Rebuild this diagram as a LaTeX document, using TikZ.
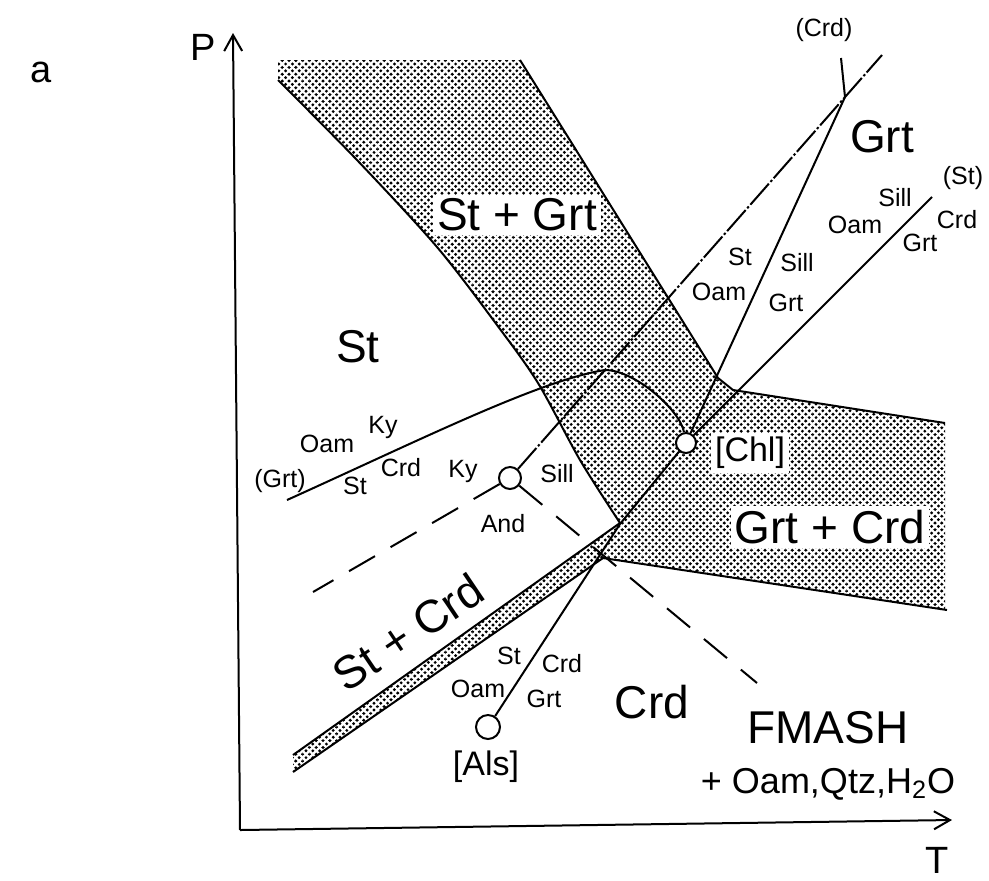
\documentclass[tikz,border=0pt]{standalone}
\usepackage{fontspec}
\setmainfont{Liberation Sans}
\usetikzlibrary{arrows.meta,patterns.meta}

% pola bintik untuk daerah dua fase
\tikzdeclarepattern{
  name=bintik,
  type=uncolored,
  bounding box={(-1.7pt,-1.7pt) and (1.7pt,1.7pt)},
  tile size={(3.4pt,3.4pt)},
  code={
    \fill (0pt,0pt) circle (0.8pt);
    \fill (1.7pt,1.7pt) circle (0.8pt);
    \fill (-1.7pt,1.7pt) circle (0.8pt);
    \fill (1.7pt,-1.7pt) circle (0.8pt);
    \fill (-1.7pt,-1.7pt) circle (0.8pt);
  }
}

\begin{document}
\begin{tikzpicture}[x=0.5pt,y=-0.5pt,
    >={Straight Barb[length=8pt,width=9pt]},
    garis/.style={line width=1pt},
    putus/.style={line width=1pt, dash pattern=on 15pt off 9pt},
    titiktitik/.style={line width=1pt, dash pattern=on 14pt off 1.2pt on 1.2pt off 1.2pt},
    kecil/.style={font=\fontsize{12.5}{14}\selectfont, inner sep=0pt},
    besar/.style={font=\fontsize{23}{26}\selectfont, inner sep=2pt},
    titik/.style={circle, draw, fill=white, line width=1pt, inner sep=0pt}]

    \useasboundingbox (0,0) rectangle (989,880);

    % Gambar daerah berbintik
    \fill[pattern=bintik, pattern color=black] (278,60) -- (520,60) -- (718,378) -- (733,390)
        -- (945,423) -- (945,610) -- (603,558) -- (293,772) -- (293,755) -- (620,523)
        -- plot[smooth] coordinates {(620,523) (580,460) (538,383) (497,325) (437,247) (357,160) (278,80)}
        -- cycle;

    % Batas-batas daerah
    \draw[garis] plot[smooth] coordinates {(278,80) (357,160) (437,247) (497,325) (538,383) (580,460) (620,523)};
    \draw[garis] (520,60) -- (718,378) -- (733,390) -- (945,423);
    \draw[garis] (603,558) -- (947,610);
    \draw[garis] (293,755) -- (620,523);
    \draw[garis] (293,772) -- (603,558);

    % Titik invarian
    \node[titik, minimum size=12pt] (als) at (488,727) {};
    \node[titik, minimum size=10pt] (chl) at (686,443) {};
    \node[titik, minimum size=11pt] (kysill) at (510,478) {};

    % Titik bantu
    \coordinate (O) at (240,830);
    \coordinate (Ptop) at (233,33);
    \coordinate (Tend) at (952,820);
    \coordinate (tekuk) at (620,524);
    \coordinate (crdpt) at (845,97);
    \coordinate (crdend) at (841,58);
    \coordinate (stend) at (932,197);
    \coordinate (kyend) at (882,55);
    \coordinate (grtend) at (287,500);
    \coordinate (grtkink) at (605,370);
    \coordinate (andky) at (313,592);
    \coordinate (andsill) at (757,683);

    % Garis reaksi univarian
    \draw[garis] (als) -- (tekuk) -- (chl);
    \draw[garis] (chl) -- (crdpt) -- (crdend);
    \draw[garis] (chl) -- (stend);
    \draw[garis] (grtend) .. controls (420,440) and (540,380) .. (grtkink)
        .. controls (635,370) and (680,410) .. (chl);

    % Garis Ky-Sill-And
    \draw[titiktitik] (kysill) -- (kyend);
    \draw[putus] (kysill) -- (andky);
    \draw[putus] (kysill) -- (andsill);

    % Sumbu P dan T
    \draw[garis, ->] (O) -- (Ptop);
    \draw[garis, ->] (O) -- (Tend);
    \node[font=\fontsize{19}{21}\selectfont] (lbla) at (41,72) {a};
    \node[font=\fontsize{19}{21}\selectfont] (lblP) at (203,47) {P};
    \node[font=\fontsize{19}{21}\selectfont] (lblT) at (937,860) {T};

    % Nama daerah
    \node[besar, fill=white] (stgrt) at (517,215) {St + Grt};
    \node[besar] (st) at (358,347) {St};
    \node[besar] (grt) at (882,137) {Grt};
    \node[besar, fill=white] (grtcrd) at (830,527) {Grt + Crd};
    \node[besar] (crd) at (652,702) {Crd};
    \node[besar, rotate=34, inner sep=0pt] (stcrd) at (408,632) {St + Crd};
    \node[besar, inner sep=0pt] (fmash) at (828,728) {FMASH};
    \node[font=\fontsize{18}{20}\selectfont, anchor=base] (komp) at (828,793) {+ Oam,Qtz,H\textsubscript{2}O};

    % Label titik invarian
    \node[font=\fontsize{17}{19}\selectfont, fill=white, inner sep=2pt] (lblchl) at (750,453) {[Chl]};
    \node[font=\fontsize{17}{19}\selectfont, inner sep=0pt] (lblals) at (486,767) {[Als]};

    % Label reaksi
    \node[kecil] (crdtop) at (824,30) {(Crd)};
    \node[kecil] (sttop) at (963,178) {(St)};
    \node[kecil] at (895,198) {Sill};
    \node[kecil] at (855,225) {Oam};
    \node[kecil] at (957,220) {Crd};
    \node[kecil] at (920,243) {Grt};
    \node[kecil] at (740,257) {St};
    \node[kecil] at (719,292) {Oam};
    \node[kecil] at (797,263) {Sill};
    \node[kecil] at (786,303) {Grt};
    \node[kecil] at (383,427) {Ky};
    \node[kecil] at (327,444) {Oam};
    \node[kecil] (grtleft) at (280,481) {(Grt)};
    \node[kecil] at (355,486) {St};
    \node[kecil] at (401,468) {Crd};
    \node[kecil] at (463,471) {Ky};
    \node[kecil] at (557,474) {Sill};
    \node[kecil] at (503,524) {And};
    \node[kecil] at (509,656) {St};
    \node[kecil] at (562,664) {Crd};
    \node[kecil] at (478,689) {Oam};
    \node[kecil] at (544,699) {Grt};

\end{tikzpicture}
\end{document}
